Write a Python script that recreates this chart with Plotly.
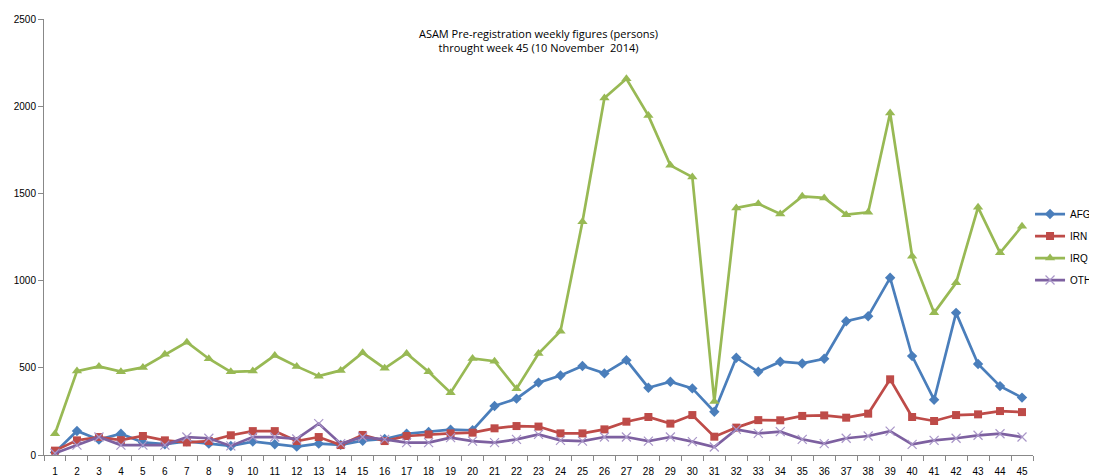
import plotly.graph_objects as go

weeks = list(range(1, 46))

afg = [15, 138, 88, 122, 72, 62, 78, 65, 52, 77, 62, 48, 65, 58, 82, 92, 122, 132, 145, 142,
       281, 323, 415, 456, 510, 468, 544, 386, 420, 382, 248, 558, 477, 535, 525, 552, 767,
       796, 1016, 567, 317, 815, 522, 395, 329]
irn = [25, 84, 103, 85, 109, 84, 72, 80, 113, 137, 137, 80, 103, 57, 115, 80, 109, 118, 124,
       128, 153, 166, 163, 124, 124, 147, 191, 218, 180, 229, 105, 157, 200, 199, 224, 227,
       214, 237, 434, 218, 195, 229, 233, 252, 246]
irq = [122, 481, 508, 478, 502, 577, 647, 552, 477, 481, 571, 508, 452, 485, 586, 497, 582,
       477, 357, 554, 538, 380, 582, 710, 1337, 2047, 2157, 1946, 1661, 1594, 307, 1417, 1441,
       1382, 1483, 1474, 1378, 1392, 1961, 1140, 815, 987, 1420, 1159, 1312]
oth = [10, 57, 103, 57, 57, 57, 103, 96, 52, 103, 103, 92, 180, 65, 103, 90, 71, 71, 100, 80,
       71, 90, 118, 84, 80, 103, 103, 80, 103, 77, 46, 147, 124, 134, 90, 65, 96, 109, 137,
       61, 84, 96, 113, 122, 103]

series = [
    ("AFG", afg, "#4A7EBB", dict(symbol="diamond", size=8)),
    ("IRN", irn, "#BE4B48", dict(symbol="square", size=8)),
    ("IRQ", irq, "#98B954", dict(symbol="triangle-up", size=9)),
    ("OTH", oth, "#7D60A0", dict(symbol="x-thin", size=9, line=dict(width=1.2, color="#A996C8"))),
]

fig = go.Figure()
for name, vals, color, mk in series:
    m = dict(color=color, **mk)
    if "line" not in m:
        m["line"] = dict(width=0)
    fig.add_trace(go.Scatter(x=weeks, y=vals, name=name, legendgroup=name,
                             mode="lines+markers",
                             line=dict(color=color, width=2.7), marker=m))

fig.update_layout(
    width=1089, height=468,
    margin=dict(l=36, r=64, t=11, b=21, autoexpand=False),
    plot_bgcolor="white", paper_bgcolor="white",
    font=dict(family="Liberation Sans, Arial", size=10, color="#000000"),
    title=dict(text="ASAM Pre-registration weekly figures (persons)<br>throught week 45 (10 November  2014)",
               x=0.5, xanchor="center", xref="paper", y=0.936, yanchor="top",
               font=dict(family="Open Sans, Liberation Sans", size=11, color="#000000")),
    legend=dict(x=0.997, xanchor="left", y=0.477, yanchor="middle",
                font=dict(size=10, family="Liberation Sans, Arial"),
                itemwidth=30, tracegroupgap=3, bgcolor="rgba(0,0,0,0)"),
    showlegend=True,
)
fig.update_xaxes(range=[0.5, 45.5], tickmode="array", tickvals=weeks, automargin=False,
                 ticks="outside", ticklen=7, tickcolor="rgba(0,0,0,0)",
                 showgrid=False, zeroline=False,
                 showline=True, linecolor="#888888", linewidth=1,
                 minor=dict(tick0=0.5, dtick=1, ticks="outside", ticklen=5, tickcolor="#888888"),
                 tickfont=dict(size=10))
fig.update_yaxes(range=[0, 2500], dtick=500, ticks="outside", ticklen=5, tickcolor="#888888",
                 automargin=False,
                 showgrid=False, zeroline=False, showline=True, linecolor="#888888", linewidth=1,
                 tickfont=dict(size=10))

fig.write_html("out.html")
